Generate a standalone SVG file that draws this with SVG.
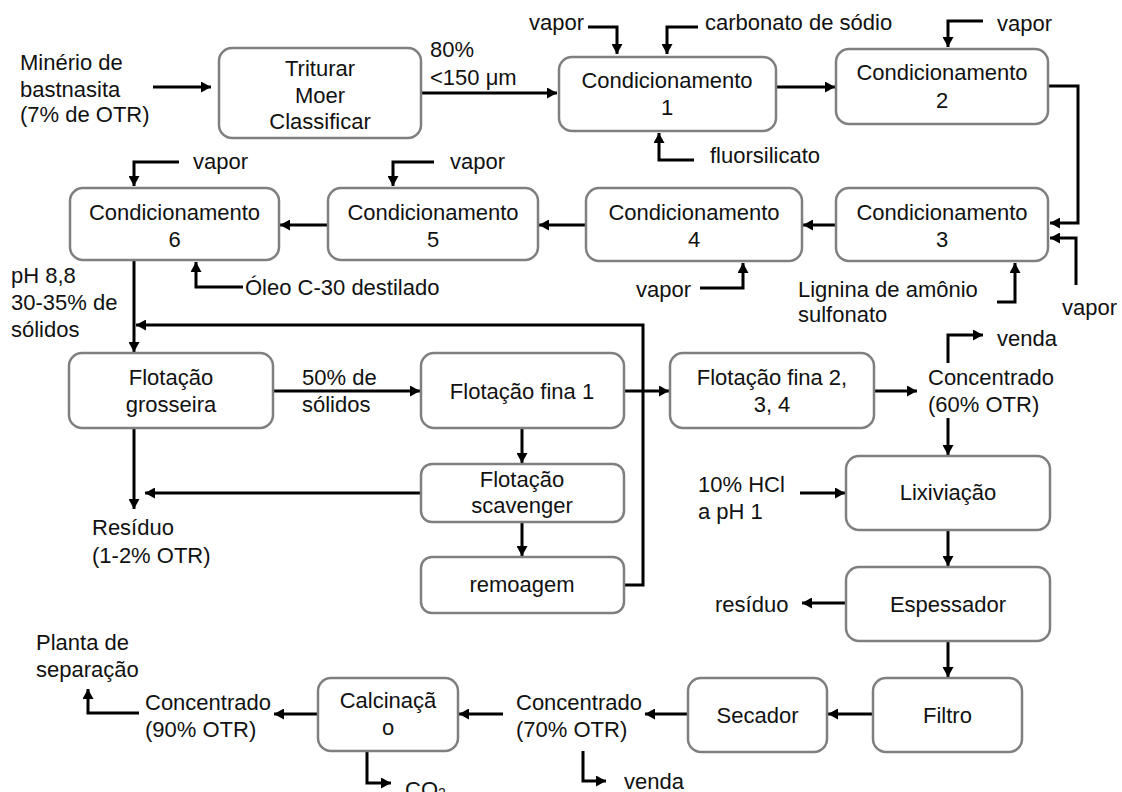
<svg xmlns="http://www.w3.org/2000/svg" width="1122" height="792" viewBox="0 0 1122 792">
<defs>
<marker id="ah" viewBox="0 0 10 11" refX="10" refY="5.5" markerWidth="10" markerHeight="11" markerUnits="userSpaceOnUse" orient="auto">
<path d="M0,0 L10,5.5 L0,11 z" fill="#000"/>
</marker>
<style>
.box{fill:#fff;stroke:#7f7f7f;stroke-width:2.5}
.t{font-family:"Liberation Sans",Arial,sans-serif;font-size:22px;fill:#111}
.m{text-anchor:middle}
.e{text-anchor:end}
.ln{fill:none;stroke:#000;stroke-width:3;marker-end:url(#ah)}
</style>
</defs>
<rect width="1122" height="792" fill="#fff"/>

<g id="connectors">
<path class="ln" d="M153,87 H211"/>
<path class="ln" d="M421,93 H557"/>
<path class="ln" d="M588,27 H617 V54"/>
<path class="ln" d="M698,27 H667 V54"/>
<path class="ln" d="M694,160 H659 V133"/>
<path class="ln" d="M776,87 H835"/>
<path class="ln" d="M983,21 H948 V47"/>
<path class="ln" d="M1048,86 H1078 V223 H1050"/>
<path class="ln" d="M1076,285 V238 H1050"/>
<path class="ln" d="M997,302 H1015 V263"/>
<path class="ln" d="M836,225 H803"/>
<path class="ln" d="M700,288 H743 V263"/>
<path class="ln" d="M586,225 H539"/>
<path class="ln" d="M434,162 H393 V186"/>
<path class="ln" d="M328,225 H280"/>
<path class="ln" d="M179,162 H134 V186"/>
<path class="ln" d="M243,287 H196 V262"/>
<path class="ln" d="M134,260 V352"/>
<path class="ln" d="M624,585 H643 V325 H136"/>
<path class="ln" d="M273,391 H420"/>
<path class="ln" d="M134,428 V509"/>
<path class="ln" d="M522,428 V463"/>
<path class="ln" d="M421,493 H145"/>
<path class="ln" d="M522,522 V556"/>
<path class="ln" d="M624,391 H669"/>
<path class="ln" d="M874,391 H917"/>
<path class="ln" d="M948,363 V335 H983"/>
<path class="ln" d="M948,418 V455"/>
<path class="ln" d="M800,493 H845"/>
<path class="ln" d="M948,530 V566"/>
<path class="ln" d="M846,603 H802"/>
<path class="ln" d="M948,641 V677"/>
<path class="ln" d="M873,714 H828"/>
<path class="ln" d="M688,714 H645"/>
<path class="ln" d="M583,751 V781 H606"/>
<path class="ln" d="M503,714 H459"/>
<path class="ln" d="M319,714 H274"/>
<path class="ln" d="M367,751 V783 H391"/>
<path class="ln" d="M139,713 H88 V689"/>
</g>

<g id="minerio">
<text class="t" x="20" y="70">Minério de</text>
<text class="t" x="20" y="97">bastnasita</text>
<text class="t" x="20" y="122">(7% de OTR)</text>
</g>

<g id="triturar">
<rect class="box" x="219" y="48" width="202" height="90" rx="13"/>
<text class="t m" x="320" y="76">Triturar</text>
<text class="t m" x="320" y="103">Moer</text>
<text class="t m" x="320" y="129">Classificar</text>
</g>
<g id="lbl-80">
<text class="t" x="430" y="57">80%</text>
<text class="t" x="430" y="85">&lt;150 μm</text>
</g>

<g id="cond1">
<rect class="box" x="559" y="57" width="217" height="74" rx="13"/>
<text class="t m" x="667" y="88">Condicionamento</text>
<text class="t m" x="667" y="115">1</text>
</g>
<g id="cond2">
<rect class="box" x="836" y="49" width="212" height="75" rx="13"/>
<text class="t m" x="942" y="80">Condicionamento</text>
<text class="t m" x="942" y="108">2</text>
</g>
<g id="cond3">
<rect class="box" x="836" y="188" width="212" height="73" rx="13"/>
<text class="t m" x="942" y="220">Condicionamento</text>
<text class="t m" x="942" y="247">3</text>
</g>
<g id="cond4">
<rect class="box" x="586" y="188" width="216" height="73" rx="13"/>
<text class="t m" x="694" y="220">Condicionamento</text>
<text class="t m" x="694" y="247">4</text>
</g>
<g id="cond5">
<rect class="box" x="328" y="188" width="210" height="72" rx="13"/>
<text class="t m" x="433" y="220">Condicionamento</text>
<text class="t m" x="433" y="247">5</text>
</g>
<g id="cond6">
<rect class="box" x="70" y="188" width="209" height="72" rx="13"/>
<text class="t m" x="174.5" y="220">Condicionamento</text>
<text class="t m" x="174.5" y="247">6</text>
</g>

<g id="labels-top">
<text class="t e" x="584" y="30">vapor</text>
<text class="t" x="705" y="30">carbonato de sódio</text>
<text class="t" x="710" y="163">fluorsilicato</text>
<text class="t" x="997" y="31">vapor</text>
<text class="t" x="193" y="169">vapor</text>
<text class="t" x="450" y="169">vapor</text>
<text class="t" x="636" y="297">vapor</text>
<text class="t" x="798" y="297">Lignina de amônio</text>
<text class="t" x="798" y="322">sulfonato</text>
<text class="t" x="1062" y="315">vapor</text>
<text class="t" x="245" y="295">Óleo C-30 destilado</text>
<text class="t" x="11" y="283">pH 8,8</text>
<text class="t" x="11" y="310">30-35% de</text>
<text class="t" x="11" y="337">sólidos</text>
</g>

<g id="flot-grosseira">
<rect class="box" x="69" y="353" width="204" height="75" rx="13"/>
<text class="t m" x="171" y="385">Flotação</text>
<text class="t m" x="171" y="412">grosseira</text>
</g>
<g id="lbl-50">
<text class="t" x="302" y="385">50% de</text>
<text class="t" x="302" y="412">sólidos</text>
</g>
<g id="flot-fina1">
<rect class="box" x="421" y="353" width="203" height="75" rx="13"/>
<text class="t m" x="522" y="399">Flotação fina 1</text>
</g>
<g id="flot-scavenger">
<rect class="box" x="421" y="464" width="203" height="58" rx="11"/>
<text class="t m" x="522" y="487">Flotação</text>
<text class="t m" x="522" y="513">scavenger</text>
</g>
<g id="remoagem">
<rect class="box" x="421" y="557" width="203" height="56" rx="11"/>
<text class="t m" x="522" y="592">remoagem</text>
</g>
<g id="residuo1">
<text class="t" x="92" y="535">Resíduo</text>
<text class="t" x="92" y="563">(1-2% OTR)</text>
</g>
<g id="flot-fina2">
<rect class="box" x="670" y="353" width="204" height="75" rx="13"/>
<text class="t m" x="772" y="385">Flotação fina 2,</text>
<text class="t m" x="772" y="412">3, 4</text>
</g>
<g id="conc60">
<text class="t" x="928" y="385">Concentrado</text>
<text class="t" x="928" y="412">(60% OTR)</text>
<text class="t" x="997" y="346">venda</text>
</g>
<g id="lixiviacao">
<rect class="box" x="846" y="456" width="204" height="74" rx="13"/>
<text class="t m" x="948" y="500">Lixiviação</text>
</g>
<g id="hcl">
<text class="t" x="698" y="492">10% HCl</text>
<text class="t" x="698" y="519">a pH 1</text>
</g>
<g id="espessador">
<rect class="box" x="846" y="567" width="204" height="74" rx="13"/>
<text class="t m" x="948" y="612">Espessador</text>
</g>
<g id="residuo2">
<text class="t" x="715" y="612">resíduo</text>
</g>
<g id="filtro">
<rect class="box" x="873" y="678" width="149" height="74" rx="13"/>
<text class="t m" x="947.5" y="723">Filtro</text>
</g>
<g id="secador">
<rect class="box" x="688" y="678" width="139" height="74" rx="13"/>
<text class="t m" x="757.5" y="723">Secador</text>
</g>
<g id="conc70">
<text class="t" x="516" y="710">Concentrado</text>
<text class="t" x="516" y="737">(70% OTR)</text>
<text class="t" x="624" y="789">venda</text>
</g>
<g id="calcinacao">
<rect class="box" x="318" y="678" width="140" height="73" rx="13"/>
<text class="t m" x="388" y="708">Calcinaçã</text>
<text class="t m" x="388" y="735">o</text>
</g>
<g id="co2">
<text class="t" x="405" y="797">CO<tspan font-size="14" dy="1">2</tspan></text>
</g>
<g id="conc90">
<text class="t" x="145" y="710">Concentrado</text>
<text class="t" x="145" y="737">(90% OTR)</text>
</g>
<g id="planta">
<text class="t" x="36" y="650">Planta de</text>
<text class="t" x="36" y="677">separação</text>
</g>
</svg>
